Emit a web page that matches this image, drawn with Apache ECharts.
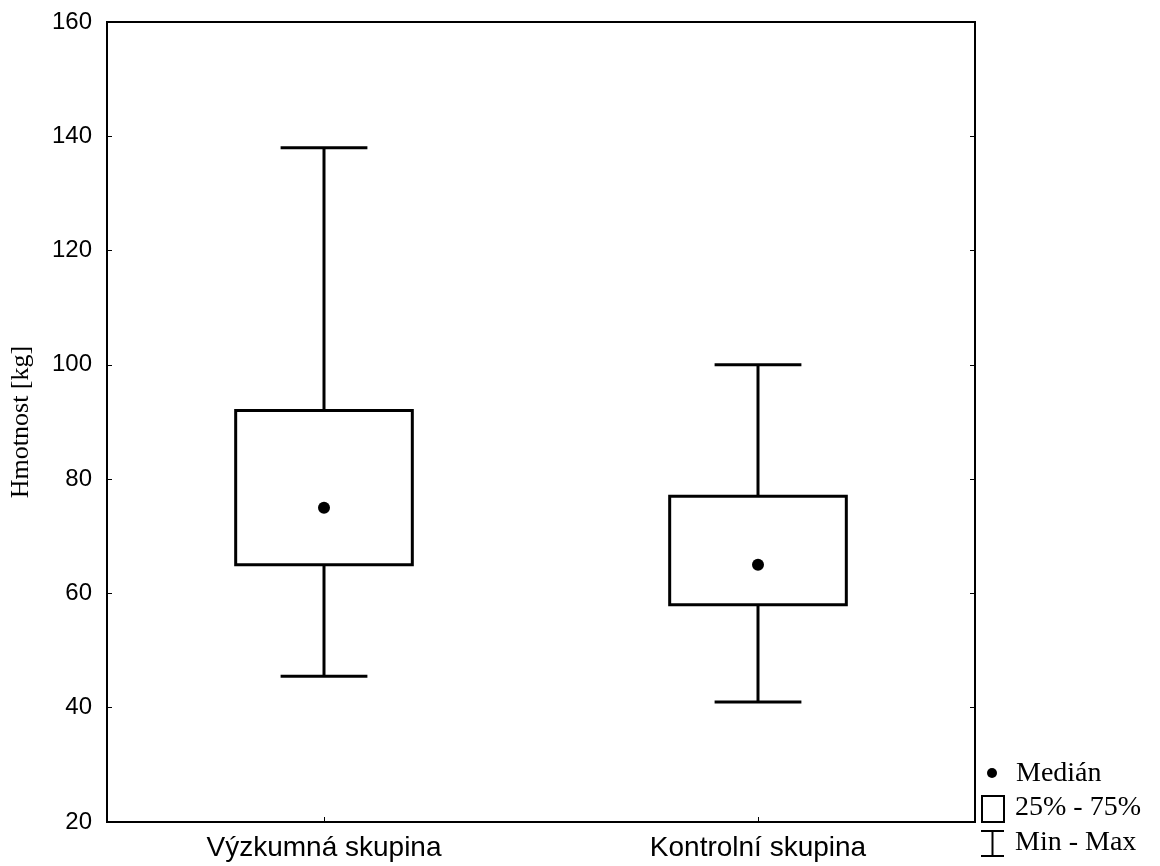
<!DOCTYPE html>
<html><head><meta charset="utf-8">
<script src="https://cdn.jsdelivr.net/npm/echarts@6/dist/echarts.min.js"></script>
<style>html,body{margin:0;padding:0;background:#fff}#c{width:1160px;height:866px}</style>
</head><body><div id="c"></div>
<script>
const categories = ['Výzkumná skupina', 'Kontrolní skupina'];
const minVals = [45.5, 41];
const q1Vals = [65, 58];
const medianVals = [75, 65];
const q3Vals = [92, 77];
const maxVals = [138, 100];
const yTicks = [20, 40, 60, 80, 100, 120, 140, 160];

const boxData = categories.map((c, i) => [i, minVals[i], q1Vals[i], q3Vals[i], maxVals[i]]);
const medData = categories.map((c, i) => [i, medianVals[i]]);

const chart = echarts.init(document.getElementById('c'));
const serif = '"Liberation Serif", "Times New Roman", serif';
const sans = '"Liberation Sans", Arial, sans-serif';
chart.setOption({
  animation: false,
  backgroundColor: '#fff',
  grid: {left: 106, right: 185, top: 22, bottom: 44, show: true, borderColor: '#000', borderWidth: 2, backgroundColor: 'transparent'},
  xAxis: {
    type: 'category', data: categories,
    axisLine: {show: true, lineStyle: {color: '#000', width: 2}},
    axisTick: {show: true, inside: true, alignWithLabel: true, length: 5, lineStyle: {color: '#000', width: 1}},
    axisLabel: {color: '#000', fontFamily: sans, fontSize: 28, margin: 12},
    splitLine: {show: false}
  },
  yAxis: [{
    type: 'value', min: yTicks[0], max: yTicks[yTicks.length - 1], interval: 20,
    name: 'Hmotnost [kg]', nameLocation: 'middle', nameGap: 73, nameRotate: 90,
    nameTextStyle: {color: '#000', fontFamily: serif, fontSize: 26},
    axisLine: {show: true, lineStyle: {color: '#000', width: 2}},
    axisTick: {show: true, inside: true, length: 5, lineStyle: {color: '#000', width: 1}},
    axisLabel: {color: '#000', fontFamily: sans, fontSize: 24, margin: 15},
    splitLine: {show: false}
  }, {
    type: 'value', min: yTicks[0], max: yTicks[yTicks.length - 1], interval: 20, position: 'right',
    axisLine: {show: true, lineStyle: {color: '#000', width: 2}},
    axisTick: {show: true, inside: true, length: 5, lineStyle: {color: '#000', width: 1}},
    axisLabel: {show: false}, splitLine: {show: false}
  }],
  series: [{
    type: 'custom',
    data: boxData,
    renderItem: function (params, api) {
      const i = api.value(0);
      const band = api.size([1, 0])[0];
      const bw = band * 0.407, cw = band * 0.2;
      const pMin = api.coord([i, api.value(1)]);
      const pQ1 = api.coord([i, api.value(2)]);
      const pQ3 = api.coord([i, api.value(3)]);
      const pMax = api.coord([i, api.value(4)]);
      const x = pMin[0];
      const st = {stroke: '#000', lineWidth: 3, fill: null};
      return {type: 'group', children: [
        {type: 'line', shape: {x1: x, y1: pMax[1], x2: x, y2: pQ3[1]}, style: st},
        {type: 'line', shape: {x1: x, y1: pQ1[1], x2: x, y2: pMin[1]}, style: st},
        {type: 'line', shape: {x1: x - cw / 2, y1: pMax[1], x2: x + cw / 2, y2: pMax[1]}, style: st},
        {type: 'line', shape: {x1: x - cw / 2, y1: pMin[1], x2: x + cw / 2, y2: pMin[1]}, style: st},
        {type: 'rect', shape: {x: x - bw / 2, y: pQ3[1], width: bw, height: pQ1[1] - pQ3[1]}, style: {stroke: '#000', lineWidth: 3, fill: '#fff'}}
      ]};
    }
  }, {
    type: 'scatter', data: medData, symbol: 'circle', symbolSize: 12,
    itemStyle: {color: '#000', opacity: 1}, z: 5
  }],
  graphic: [
    {type: 'circle', shape: {cx: 992, cy: 773, r: 5}, style: {fill: '#000'}},
    {type: 'text', left: 1016, top: 760, style: {text: 'Medián', fontFamily: serif, fontSize: 28, fill: '#000'}},
    {type: 'rect', shape: {x: 982, y: 796, width: 22, height: 26}, style: {fill: null, stroke: '#000', lineWidth: 2}},
    {type: 'text', left: 1015, top: 794, style: {text: '25% - 75%', fontFamily: serif, fontSize: 28, fill: '#000'}},
    {type: 'line', shape: {x1: 981, y1: 831, x2: 1004, y2: 831}, style: {stroke: '#000', lineWidth: 2}},
    {type: 'line', shape: {x1: 992.5, y1: 831, x2: 992.5, y2: 856}, style: {stroke: '#000', lineWidth: 2}},
    {type: 'line', shape: {x1: 981, y1: 856, x2: 1004, y2: 856}, style: {stroke: '#000', lineWidth: 2}},
    {type: 'text', left: 1015, top: 829, style: {text: 'Min - Max', fontFamily: serif, fontSize: 28, fill: '#000'}}
  ]
});
</script></body></html>
